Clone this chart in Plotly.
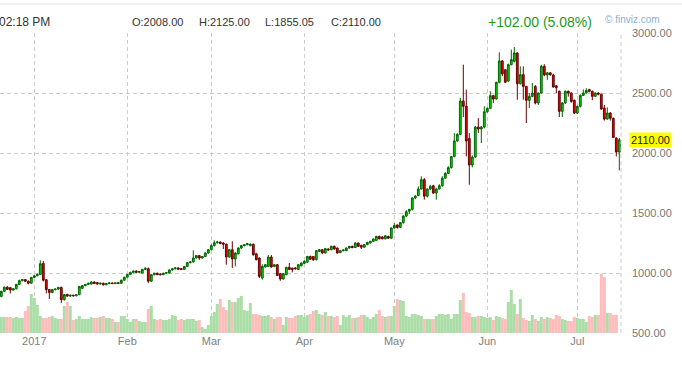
import pandas as pd
import plotly.graph_objects as go

# ---- daily BTCUSD candles, 2016-12-21 .. 2017-07-15 ----
start_date = "2016-12-21"
opens = [805, 847, 882, 878, 858, 868, 905, 936, 945, 932, 915,
         963, 977, 988, 1080, 944, 862, 838, 862, 866, 880, 778, 822, 808, 815, 810, 820, 872, 895, 905, 908,
         925, 920, 908, 915, 902, 912, 917, 912, 918, 914, 940,
         965, 988, 1005, 1016, 1006, 1000, 1030, 1036, 932, 986, 998, 992, 986, 998, 1000, 1025, 1035, 1042,
         1036, 1030, 1055, 1086, 1092, 1125, 1145, 1125, 1138, 1167,
         1194, 1228, 1252, 1258, 1250, 1240, 1133, 1194, 1117, 1160, 1208, 1228, 1236, 1228, 1240, 1160, 1125,
         958, 1050, 1055, 1133, 1055, 1069, 994, 950, 986, 1047, 1040, 1042, 1030, 1060,
         1080, 1090, 1138, 1138, 1111, 1180, 1194, 1167, 1200, 1194, 1222, 1208, 1170, 1186, 1186, 1208, 1222,
         1212, 1250, 1230, 1215, 1236, 1250, 1264, 1272, 1305, 1300, 1285, 1305, 1290,
         1375, 1400, 1380, 1420, 1475, 1515, 1530, 1625, 1645, 1700, 1778, 1640, 1700, 1727, 1666, 1700, 1727,
         1790, 1830, 1878, 1970, 2100, 2155, 2433, 2389, 2120, 1900, 1966, 2216, 2200, 2216,
         2344, 2372, 2478, 2450, 2589, 2767, 2694, 2600, 2736, 2764, 2833, 2578, 2653, 2555, 2439, 2472, 2555,
         2417, 2500, 2722, 2650, 2668, 2650, 2560, 2514, 2347, 2417, 2514, 2500, 2440,
         2333, 2389, 2480, 2500, 2528, 2514, 2472, 2500, 2490, 2375, 2283, 2333, 2290, 2125, 2008]
highs = [852, 888, 890, 884, 872, 910, 945, 950, 950, 936, 968,
         982, 995, 1105, 1100, 950, 868, 866, 872, 884, 886, 825, 826, 818, 818, 822, 892, 898, 908, 918, 930,
         930, 924, 918, 918, 915, 920, 922, 921, 922, 945, 968,
         992, 1010, 1020, 1022, 1015, 1035, 1045, 1045, 990, 1003, 1004, 998, 1002, 1006, 1030, 1040, 1048, 1046,
         1040, 1058, 1090, 1100, 1189, 1150, 1150, 1142, 1172, 1200,
         1240, 1272, 1268, 1262, 1256, 1245, 1200, 1264, 1172, 1214, 1232, 1240, 1250, 1246, 1245, 1168, 1130,
         1072, 1075, 1150, 1150, 1075, 1075, 1000, 1000, 1052, 1083, 1045, 1048, 1075, 1088,
         1105, 1142, 1145, 1142, 1190, 1200, 1198, 1208, 1206, 1228, 1228, 1212, 1190, 1196, 1212, 1226, 1228,
         1256, 1255, 1235, 1240, 1260, 1268, 1288, 1310, 1312, 1306, 1315, 1310, 1380,
         1416, 1405, 1425, 1480, 1525, 1535, 1630, 1650, 1722, 1806, 1792, 1705, 1735, 1735, 1710, 1740, 1806,
         1840, 1890, 1975, 2166, 2165, 2460, 2736, 2528, 2166, 1980, 2225, 2290, 2225, 2389,
         2380, 2514, 2485, 2595, 2839, 2775, 2700, 2745, 2861, 2883, 2840, 2722, 2722, 2560, 2500, 2583, 2565,
         2505, 2735, 2740, 2675, 2675, 2660, 2565, 2520, 2425, 2522, 2520, 2505, 2445,
         2395, 2490, 2530, 2540, 2535, 2520, 2505, 2506, 2495, 2400, 2380, 2340, 2295, 2130, 2125]
lows = [798, 842, 858, 830, 852, 864, 900, 930, 925, 905, 912,
        958, 972, 985, 930, 830, 783, 832, 855, 860, 750, 770, 800, 800, 805, 806, 815, 866, 890, 900, 904,
        908, 905, 904, 895, 898, 908, 910, 908, 910, 910, 936,
        960, 985, 1000, 1000, 998, 996, 1025, 917, 925, 980, 982, 980, 982, 992, 996, 1020, 1030, 1028,
        1026, 1026, 1050, 1080, 1088, 1120, 1110, 1120, 1134, 1162,
        1190, 1222, 1246, 1240, 1200, 1069, 1128, 1042, 1055, 1155, 1200, 1222, 1230, 1222, 1145, 1105, 958,
        945, 1045, 1050, 1045, 1048, 975, 935, 945, 982, 1025, 1005, 1030, 1025, 1055,
        1075, 1085, 1108, 1100, 1105, 1175, 1160, 1162, 1188, 1190, 1196, 1160, 1165, 1180, 1182, 1204, 1206,
        1208, 1218, 1200, 1210, 1232, 1246, 1260, 1268, 1280, 1280, 1280, 1285, 1285,
        1370, 1370, 1375, 1410, 1465, 1490, 1520, 1615, 1640, 1695, 1611, 1630, 1690, 1660, 1611, 1695, 1720,
        1785, 1825, 1870, 1965, 2095, 2150, 2300, 1972, 1736, 1880, 1960, 2167, 2083, 2205,
        2335, 2365, 2417, 2445, 2580, 2640, 2583, 2590, 2730, 2755, 2444, 2570, 2444, 2250, 2375, 2465, 2405,
        2400, 2495, 2640, 2610, 2645, 2545, 2500, 2300, 2300, 2410, 2470, 2420, 2325,
        2325, 2380, 2475, 2495, 2505, 2440, 2465, 2480, 2360, 2270, 2278, 2270, 2125, 1972, 1855.05]
closes = [847, 882, 864, 858, 868, 905, 936, 945, 932, 915, 963,
          977, 988, 1077, 940, 862, 838, 862, 866, 880, 778, 820, 808, 815, 810, 818, 888, 895, 905, 915, 925,
          912, 908, 915, 902, 912, 917, 912, 918, 914, 940, 965,
          988, 1005, 1016, 1006, 1012, 1030, 1040, 932, 986, 998, 986, 986, 998, 1003, 1025, 1035, 1042, 1032,
          1030, 1055, 1086, 1092, 1125, 1145, 1125, 1138, 1167, 1194,
          1228, 1252, 1258, 1246, 1240, 1133, 1194, 1117, 1167, 1208, 1228, 1236, 1244, 1240, 1152, 1111, 972,
          1055, 1069, 1133, 1050, 1069, 980, 950, 994, 1047, 1030, 1030, 1035, 1069, 1083,
          1097, 1138, 1115, 1111, 1186, 1194, 1167, 1203, 1192, 1222, 1200, 1167, 1186, 1192, 1208, 1222, 1212,
          1250, 1222, 1215, 1236, 1255, 1264, 1283, 1305, 1285, 1285, 1310, 1290, 1375,
          1395, 1380, 1420, 1475, 1510, 1530, 1625, 1640, 1700, 1778, 1640, 1700, 1722, 1666, 1700, 1727, 1790,
          1830, 1878, 1970, 2100, 2155, 2433, 2389, 2100, 1900, 1966, 2216, 2200, 2216, 2344,
          2372, 2478, 2450, 2589, 2767, 2660, 2590, 2736, 2778, 2833, 2578, 2653, 2555, 2439, 2472, 2500, 2417,
          2500, 2722, 2650, 2668, 2652, 2550, 2544, 2347, 2417, 2514, 2500, 2430, 2333,
          2389, 2480, 2500, 2520, 2514, 2472, 2500, 2490, 2367, 2283, 2333, 2290, 2130, 2008, 2110]
# daily volume (thousands), completed days only
volume = [16, 16, 16, 16, 15, 16, 15, 15, 22, 27, 39,
          35, 28, 17, 15, 15, 16, 17, 15, 14, 14, 27, 31, 27, 13, 14, 17, 14, 14, 14, 16,
          15, 15, 16, 17, 15, 15, 14, 11, 11, 17, 17,
          14, 11, 14, 14, 12, 11, 11, 24, 27, 14, 13, 14, 13, 13, 14, 18, 17, 13,
          14, 13, 14, 14, 14, 12, 13, 6, 4, 8,
          17, 21, 29, 34, 26, 23, 33, 31, 31, 35, 37, 23, 22, 30, 19, 19, 18,
          17, 17, 18, 16, 14, 16, 16, 8, 16, 15, 15, 17, 18, 18,
          16, 18, 19, 22, 23, 19, 18, 21, 17, 17, 16, 17, 8, 18, 16, 18, 15,
          15, 16, 18, 18, 16, 14, 16, 19, 23, 17, 16, 17, 17,
          27, 34, 33, 32, 17, 16, 19, 19, 18, 17, 14, 14, 14, 14, 17, 19, 19,
          18, 19, 14, 19, 19, 33, 40, 21, 20, 16, 16, 17, 17, 16,
          15, 16, 13, 17, 16, 15, 14, 31, 43, 29, 19, 34, 15, 13, 12, 18, 14,
          12, 16, 14, 16, 15, 14, 18, 17, 14, 13, 12, 12, 16,
          15, 14, 14, 11, 17, 16, 18, 18, 59, 56, 20, 20, 18, 18]

month_ticks = ["2017-01-01", "2017-02-01", "2017-03-01", "2017-04-01", "2017-05-01", "2017-06-01", "2017-07-01"]
month_labels = ["2017", "Feb", "Mar", "Apr", "May", "Jun", "Jul"]
header_time = "02:18 PM"

dates = pd.date_range(start_date, periods=len(closes), freq="D")
vol_dates = dates[:len(volume)]
vol_colors = ["#aadea6" if closes[i] >= opens[i] else "#ffbcbc" for i in range(len(volume))]

FONT = "Liberation Sans, Arial, sans-serif"
GRID = "#cccccc"

fig = go.Figure()
fig.add_trace(go.Bar(
    x=vol_dates, y=volume, yaxis="y", width=86400000,
    marker=dict(color=vol_colors, line=dict(width=0)), hoverinfo="skip"))
fig.add_trace(go.Candlestick(
    x=dates, open=opens, high=highs, low=lows, close=closes, yaxis="y2",
    increasing=dict(line=dict(color="#006400", width=1), fillcolor="#00e000"),
    decreasing=dict(line=dict(color="#6a0000", width=1), fillcolor="#ee0000"),
    whiskerwidth=0, hoverinfo="skip"))

change = closes[-1] - opens[-1]
pct = change / opens[-1] * 100

def py(px):  # pixel row -> paper y (plot area from row 33 to 333)
    return (333 - px) / 300

def pxx(px):  # pixel column -> paper x (plot width 621)
    return px / 621

annotations = [
    dict(text=header_time, x=pxx(52), y=py(22), xanchor="right", yanchor="middle",
         font=dict(size=12, color="#333333")),
    dict(text=f"O:{opens[-1]:.2f}", x=pxx(157), y=py(22), xanchor="center", yanchor="middle",
         font=dict(size=11, color="#333333")),
    dict(text=f"H:{highs[-1]:.2f}", x=pxx(224), y=py(22), xanchor="center", yanchor="middle",
         font=dict(size=11, color="#333333")),
    dict(text=f"L:{lows[-1]:.2f}", x=pxx(289.5), y=py(22), xanchor="center", yanchor="middle",
         font=dict(size=11, color="#333333")),
    dict(text=f"C:{closes[-1]:.2f}", x=pxx(356), y=py(22), xanchor="center", yanchor="middle",
         font=dict(size=11, color="#333333")),
    dict(text=f"+{change:.2f} ({pct:.2f}%)", x=pxx(540), y=py(22), xanchor="center", yanchor="middle",
         font=dict(size=14, color="#1c9a1c")),
    dict(text="© finviz.com", x=pxx(632), y=py(19), xanchor="center", yanchor="middle",
         font=dict(size=10, color="#8ab0d6")),
    dict(text=f"{closes[-1]:.2f}", x=pxx(650.5), y=closes[-1], yref="y2", xanchor="center",
         yanchor="middle", bgcolor="#ffff00", borderpad=1, font=dict(size=11, color="#222222")),
]
for a in annotations:
    a.setdefault("xref", "paper")
    a.setdefault("yref", "paper")
    a["showarrow"] = False

shapes = [
    dict(type="line", xref="paper", yref="paper", x0=1, x1=1, y0=0, y1=1,
         line=dict(color=GRID, width=1, dash="4px,3px")),
    dict(type="line", xref="paper", yref="paper", x0=0, x1=682 / 621, y0=py(4), y1=py(4),
         line=dict(color="#e4e4e4", width=1)),
]

fig.update_layout(
    width=682, height=368,
    margin=dict(l=0, r=61, t=33, b=35, pad=0),
    paper_bgcolor="white", plot_bgcolor="white",
    showlegend=False, boxgap=0.15,
    font=dict(family=FONT, size=11, color="#777777"),
    xaxis=dict(type="date", range=["2016-12-20 13:36", "2017-07-15 13:36"],
               tickvals=month_ticks, ticktext=month_labels,
               showgrid=True, gridcolor=GRID, griddash="4px,3px", gridwidth=1,
               ticks="", zeroline=False, showline=False,
               tickfont=dict(size=11, color="#808080"),
               rangeslider=dict(visible=False)),
    yaxis=dict(range=[0, 300], visible=False, showgrid=False, zeroline=False),
    yaxis2=dict(overlaying="y", side="right", range=[500, 3000], tick0=500, dtick=500,
                tickformat=".2f", showgrid=True, gridcolor=GRID, griddash="4px,3px", gridwidth=1,
                ticks="", ticklabelstandoff=10, zeroline=False, showline=False,
                tickfont=dict(size=11, color="#777777")),
    annotations=annotations, shapes=shapes,
)

fig.write_html("out.html", config={"displayModeBar": False},
               post_script="document.body.style.margin='0';")
